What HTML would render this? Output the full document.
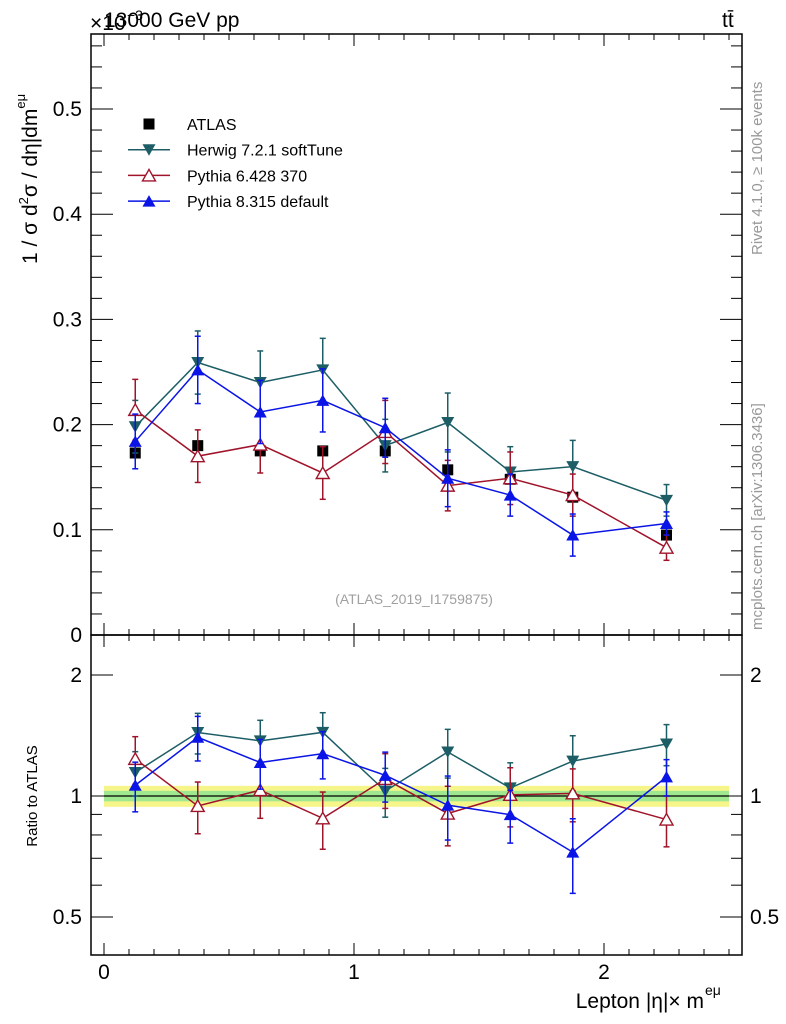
<!DOCTYPE html>
<html><head><meta charset="utf-8"><style>
body{margin:0;background:#fff;}
svg{display:block;font-family:"Liberation Sans",sans-serif;}
</style></head><body>
<svg id="c" width="786" height="1024" viewBox="0 0 786 1024"></svg>
<script>
const bins=[0.125,0.375,0.625,0.875,1.125,1.375,1.625,1.875,2.25];
const atlasVals=[0.173,0.180,0.175,0.175,0.175,0.157,0.148,0.131,0.095];
const herwigVals=[0.198,0.259,0.240,0.252,0.180,0.202,0.155,0.160,0.128];
const herwigErr=[0.025,0.030,0.030,0.030,0.025,0.028,0.024,0.025,0.015];
const py6Vals=[0.214,0.170,0.181,0.154,0.193,0.142,0.149,0.133,0.083];
const py6Err=[0.029,0.025,0.027,0.025,0.030,0.024,0.025,0.020,0.012];
const py8Vals=[0.184,0.252,0.212,0.223,0.197,0.149,0.133,0.095,0.106];
const py8Err=[0.026,0.032,0.030,0.030,0.028,0.027,0.020,0.020,0.011];
const xTicks=[0,1,2];
const yTicks=[0,0.1,0.2,0.3,0.4,0.5];
const yTickLabels=["0","0.1","0.2","0.3","0.4","0.5"];
const rTicks=[0.5,1,2];
const rTickLabels=["0.5","1","2"];

const NS="http://www.w3.org/2000/svg";
const svg=document.getElementById('c');
const L=91,R=742,T=34,MB=635,RB=955;
const X=v=>104+250*v;
const Y=v=>635-1052*v;
const RY=r=>796-121*Math.log2(r);
function el(t,a,p){const e=document.createElementNS(NS,t);for(const k in a)e.setAttribute(k,a[k]);(p||svg).appendChild(e);return e;}
function txt(s,a){const e=el('text',a);e.textContent=s;return e;}

let b=el('rect',{x:X(0),y:RY(1.06),width:X(2.5)-X(0),height:RY(0.94)-RY(1.06),fill:'#f5f58a'});


b=el('rect',{x:X(0),y:RY(1.03),width:X(2.5)-X(0),height:RY(0.97)-RY(1.03),fill:'#9fe88f'});


el('line',{x1:X(0),x2:X(2.5),y1:RY(1),y2:RY(1),stroke:'#000','stroke-width':1.3});

let f=el('rect',{x:L,y:T,width:R-L,height:MB-T,fill:'none',stroke:'#000','stroke-width':1.5});

f=el('rect',{x:L,y:MB,width:R-L,height:RB-MB,fill:'none',stroke:'#000','stroke-width':1.5});


for(let v=0;v<=2.55;v+=0.1){
  const major=Math.abs(v-Math.round(v))<1e-6;const len=major?12:6;const x=X(v);
  if(x>R)break;
  for(const [y0,d] of [[T,1],[MB,-1],[MB,1],[RB,-1]]) el('line',{x1:x,x2:x,y1:y0,y2:y0+d*len,stroke:'#000'});
}
xTicks.forEach(v=>{const t=txt(String(v),{x:X(v),y:979,'font-size':21,'text-anchor':'middle'});
});

for(let i=0;i<=28;i++){const v=i*0.02;const major=i%5==0;const len=major?22:11;const y=Y(v);
  el('line',{x1:L,x2:L+len,y1:y,y2:y,stroke:'#000'});el('line',{x1:R,x2:R-len,y1:y,y2:y,stroke:'#000'});}
yTicks.forEach((v,i)=>{const t=txt(yTickLabels[i],{x:82,y:Y(v)+7,'font-size':21,'text-anchor':'end'});
});

[0.5,0.6,0.7,0.8,0.9,1,2].forEach(v=>{const major=rTicks.includes(v);const len=major?22:11;const y=RY(v);
  el('line',{x1:L,x2:L+len,y1:y,y2:y,stroke:'#000'});el('line',{x1:R,x2:R-len,y1:y,y2:y,stroke:'#000'});});
rTicks.forEach((v,i)=>{let t=txt(rTickLabels[i],{x:82,y:RY(v)+7,'font-size':21,'text-anchor':'end'});

t=txt(rTickLabels[i],{x:750,y:RY(v)+7,'font-size':21});
});

function marker(kind,x,y,col,g){
  if(kind==='sq') return el('rect',{x:x-5.5,y:y-5.5,width:11,height:11,fill:'#000'},g);
  if(kind==='down') return el('polygon',{points:`${x-6.5},${y-5.5} ${x+6.5},${y-5.5} ${x},${y+6}`,fill:col},g);
  if(kind==='up') return el('polygon',{points:`${x-6.5},${y+5.5} ${x+6.5},${y+5.5} ${x},${y-6}`,fill:col},g);
  if(kind==='open') return el('polygon',{points:`${x-6.5},${y+5.5} ${x+6.5},${y+5.5} ${x},${y-6}`,fill:'#fff',stroke:col,'stroke-width':1.4},g);
}
const series=[
 {name:'herwig',vals:herwigVals,err:herwigErr,col:'#1d5e66',m:'down'},
 {name:'pythia6',vals:py6Vals,err:py6Err,col:'#a0142a',m:'open'},
 {name:'pythia8',vals:py8Vals,err:py8Err,col:'#0a14e6',m:'up'}];

const ga=el('g',{});

bins.forEach((x,i)=>marker('sq',X(x),Y(atlasVals[i]),'#000',ga));

series.forEach(s=>{
  const g=el('g',{});
  el('polyline',{points:bins.map((x,i)=>X(x)+','+Y(s.vals[i])).join(' '),fill:'none',stroke:s.col,'stroke-width':1.5},g);
  bins.forEach((x,i)=>{const px=X(x),y1=Y(s.vals[i]-s.err[i]),y2=Y(s.vals[i]+s.err[i]);
    el('line',{x1:px,x2:px,y1:y1,y2:y2,stroke:s.col,'stroke-width':1.5},g);
    el('line',{x1:px-3,x2:px+3,y1:y1,y2:y1,stroke:s.col,'stroke-width':1.5},g);
    el('line',{x1:px-3,x2:px+3,y1:y2,y2:y2,stroke:s.col,'stroke-width':1.5},g);
    marker(s.m,px,Y(s.vals[i]),s.col,g);});
  const gr=el('g',{});
  const r=s.vals.map((v,i)=>v/atlasVals[i]);
  el('polyline',{points:bins.map((x,i)=>X(x)+','+RY(r[i])).join(' '),fill:'none',stroke:s.col,'stroke-width':1.5},gr);
  bins.forEach((x,i)=>{const px=X(x),e=s.err[i]/atlasVals[i],y1=RY(Math.max(r[i]-e,0.3)),y2=RY(r[i]+e);
    el('line',{x1:px,x2:px,y1:y1,y2:y2,stroke:s.col,'stroke-width':1.5},gr);
    el('line',{x1:px-3,x2:px+3,y1:y1,y2:y1,stroke:s.col,'stroke-width':1.5},gr);
    el('line',{x1:px-3,x2:px+3,y1:y2,y2:y2,stroke:s.col,'stroke-width':1.5},gr);
    marker(s.m,px,RY(r[i]),s.col,gr);});
});

const leg=[['sq','#000','ATLAS'],['down','#1d5e66','Herwig 7.2.1 softTune'],['open','#a0142a','Pythia 6.428 370'],['up','#0a14e6','Pythia 8.315 default']];
leg.forEach((l,i)=>{const y=124+i*25.7;const g=el('g',{});
  
  if(i>0)el('line',{x1:128,x2:170,y1:y,y2:y,stroke:l[1],'stroke-width':1.5},g);
  marker(l[0],149,y,l[1],g);const t=el('text',{x:187,y:y+6,'font-size':16},g);t.textContent=l[2];});

let t=txt('13000 GeV pp',{x:104,y:27,'font-size':21});
t=txt('×10',{x:90,y:30,'font-size':21});
txt('−3',{x:127,y:20,'font-size':14});
t=txt('tt̄',{x:722,y:27,'font-size':21});
t=txt('(ATLAS_2019_I1759875)',{x:414,y:604,'font-size':14,fill:'#a0a0a0','text-anchor':'middle'});
t=txt('Rivet 4.1.0, ≥ 100k events',{x:0,y:0,'font-size':15,fill:'#999',transform:'translate(762,255) rotate(-90)'});
t=txt('mcplots.cern.ch [arXiv:1306.3436]',{x:0,y:0,'font-size':15,fill:'#999',transform:'translate(762,630) rotate(-90)'});
t=txt('Lepton |η|× m',{x:704,y:1008,'font-size':21,'text-anchor':'end'});
txt('eμ',{x:705,y:995,'font-size':14});
t=txt('Ratio to ATLAS',{x:0,y:0,'font-size':15,'text-anchor':'middle',transform:'translate(37,796) rotate(-90)'});
const yt=el('text',{x:0,y:0,'font-size':21,transform:'translate(37,264) rotate(-90)'});


yt.innerHTML='1 / σ  d<tspan font-size="13" dy="-9">2</tspan><tspan dy="9">σ / dη|dm</tspan><tspan font-size="13" dy="-12">eμ</tspan>';
</script>
</body></html>
